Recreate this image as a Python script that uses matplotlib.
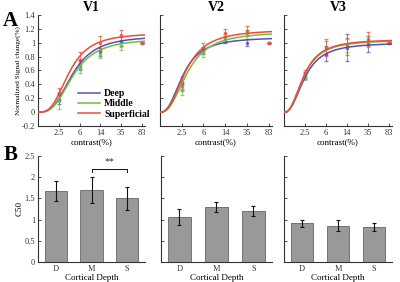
import numpy as np
import matplotlib
matplotlib.use("Agg")
import matplotlib.pyplot as plt

plt.rcParams['font.family'] = ['Liberation Serif', 'DejaVu Serif']

# ---- data ----
areas = ['V1', 'V2', 'V3']
layers = ['Deep', 'Middle', 'Superficial']
layer_colors = ['#5a4fb0', '#6cc040', '#f04a3a']
contrast_labels = ['2.5', '6', '14', '35', '83']
contrast_pos = [1, 2, 3, 4, 5]

# mean normalized response per area / layer (5 contrasts)
resp_v1 = [[0.18, 0.68, 0.87, 1.02, 1.00],
           [0.16, 0.64, 0.84, 0.95, 1.00],
           [0.27, 0.75, 1.00, 1.11, 1.00]]
err_v1 = [[0.06, 0.07, 0.06, 0.06, 0.0],
          [0.12, 0.08, 0.06, 0.05, 0.0],
          [0.08, 0.12, 0.10, 0.08, 0.0]]
resp_v2 = [[0.42, 0.89, 1.05, 1.00, 1.00],
           [0.32, 0.85, 1.08, 1.12, 1.00],
           [0.37, 0.93, 1.14, 1.17, 1.00]]
err_v2 = [[0.08, 0.05, 0.05, 0.05, 0.0],
          [0.08, 0.05, 0.05, 0.06, 0.0],
          [0.07, 0.06, 0.06, 0.07, 0.0]]
resp_v3 = [[0.53, 0.84, 0.93, 0.98, 0.99],
           [0.51, 0.93, 0.96, 1.02, 1.00],
           [0.56, 0.93, 0.95, 1.05, 0.99]]
err_v3 = [[0.05, 0.11, 0.20, 0.12, 0.0],
          [0.05, 0.10, 0.10, 0.08, 0.0],
          [0.05, 0.12, 0.12, 0.10, 0.0]]
responses = [resp_v1, resp_v2, resp_v3]
errors = [err_v1, err_v2, err_v3]

# Naka-Rushton fit parameters (Rmax, n, c50) per area / layer
fit_rmax = [[1.10, 1.06, 1.14], [1.08, 1.16, 1.19], [1.00, 1.04, 1.05]]
fit_n = [[3.0, 3.0, 3.0], [2.5, 2.5, 2.5], [2.4, 2.4, 2.4]]
fit_c50 = [[1.67, 1.70, 1.50], [1.07, 1.28, 1.19], [1.00, 0.96, 0.95]]

# C50 bars
depth_labels = ['D', 'M', 'S']
c50_v1 = [1.67, 1.70, 1.50]
c50_v2 = [1.07, 1.29, 1.20]
c50_v3 = [0.91, 0.86, 0.83]
c50_err_v1 = [0.23, 0.30, 0.27]
c50_err_v2 = [0.19, 0.12, 0.11]
c50_err_v3 = [0.08, 0.12, 0.09]
c50_vals = [c50_v1, c50_v2, c50_v3]
c50_errs = [c50_err_v1, c50_err_v2, c50_err_v3]

fig = plt.figure(figsize=(4.0, 2.82), dpi=100)

top_pos = [[0.095, 0.553, 0.2675, 0.394],
           [0.400, 0.553, 0.280, 0.394],
           [0.710, 0.553, 0.270, 0.394]]
bot_pos = [[0.095, 0.071, 0.2675, 0.376],
           [0.402, 0.071, 0.278, 0.376],
           [0.710, 0.071, 0.270, 0.376]]

axis_col = '#333333'


def style_axes(ax):
    for s in ['top', 'right']:
        ax.spines[s].set_visible(False)
    for s in ['left', 'bottom']:
        ax.spines[s].set_color(axis_col)
        ax.spines[s].set_linewidth(0.8)
    ax.tick_params(direction='in', length=2.5, width=0.6, colors=axis_col,
                   labelsize=6, pad=2)


u = np.linspace(0, 5.15, 300)
for i, area in enumerate(areas):
    ax = fig.add_axes(top_pos[i])
    style_axes(ax)
    for j, lay in enumerate(layers):
        r = fit_rmax[i][j] * u ** fit_n[i][j] / (u ** fit_n[i][j] + fit_c50[i][j] ** fit_n[i][j])
        ax.plot(u, r, color=layer_colors[j], lw=1.1, label=lay, zorder=3)
        ax.errorbar(contrast_pos, responses[i][j], yerr=errors[i][j], fmt='s',
                    ms=2.0, color=layer_colors[j], ecolor=layer_colors[j],
                    elinewidth=0.7, capsize=1.2, alpha=0.7, zorder=2)
    ax.set_xlim(0, 5.15)
    ax.set_ylim(-0.2, 1.4)
    ax.set_xticks(contrast_pos)
    ax.set_xticklabels(contrast_labels)
    ax.set_yticks(np.arange(-0.2, 1.41, 0.2))
    if i == 0:
        ax.set_yticklabels(['-0.2', '0', '0.2', '0.4', '0.6', '0.8', '1', '1.2', '1.4'])
        ax.set_ylabel('Normalized Signal change(%)', fontsize=5.2, labelpad=1)
        leg = ax.legend(loc='lower right', bbox_to_anchor=(1.08, 0.03), frameon=False,
                        fontsize=7, handlelength=2.3, handletextpad=0.4,
                        labelspacing=0.15, borderaxespad=0)
        for t in leg.get_texts():
            t.set_fontweight('bold')
    else:
        ax.set_yticklabels([])
    ax.set_xlabel('contrast(%)', fontsize=6.5, labelpad=1)
    ax.set_title(area, fontsize=10, fontweight='bold', pad=3)

for i, area in enumerate(areas):
    ax = fig.add_axes(bot_pos[i])
    style_axes(ax)
    x = np.arange(1, 4)
    ax.bar(x, c50_vals[i], width=0.62, color='#999999', edgecolor='#666666',
           linewidth=0.6, zorder=2)
    ax.errorbar(x, c50_vals[i], yerr=c50_errs[i], fmt='none', ecolor='#111111',
                elinewidth=0.8, capsize=1.5, capthick=0.8, zorder=3)
    ax.set_xlim(0.5, 3.5)
    ax.set_ylim(0, 2.5)
    ax.set_xticks(x)
    ax.set_xticklabels(depth_labels)
    ax.tick_params(axis='x', length=0)
    ax.set_yticks([0, 0.5, 1, 1.5, 2, 2.5])
    if i == 0:
        ax.set_yticklabels(['0', '0.5', '1', '1.5', '2', '2.5'])
        ax.set_ylabel('C50', fontsize=6.5, labelpad=1)
        # significance bracket between M and S
        ax.plot([2, 2, 3, 3], [2.12, 2.2, 2.2, 2.12], color='#111111', lw=0.7)
        ax.text(2.5, 2.25, '**', ha='center', va='bottom', fontsize=7, color='#333333')
    else:
        ax.set_yticklabels([])
    ax.set_xlabel('Cortical Depth', fontsize=6.5, labelpad=1)

fig.text(0.008, 0.925, 'A', fontsize=15, fontweight='bold', va='center')
fig.text(0.008, 0.45, 'B', fontsize=15, fontweight='bold', va='center')

fig.savefig('out.png', dpi=100)
